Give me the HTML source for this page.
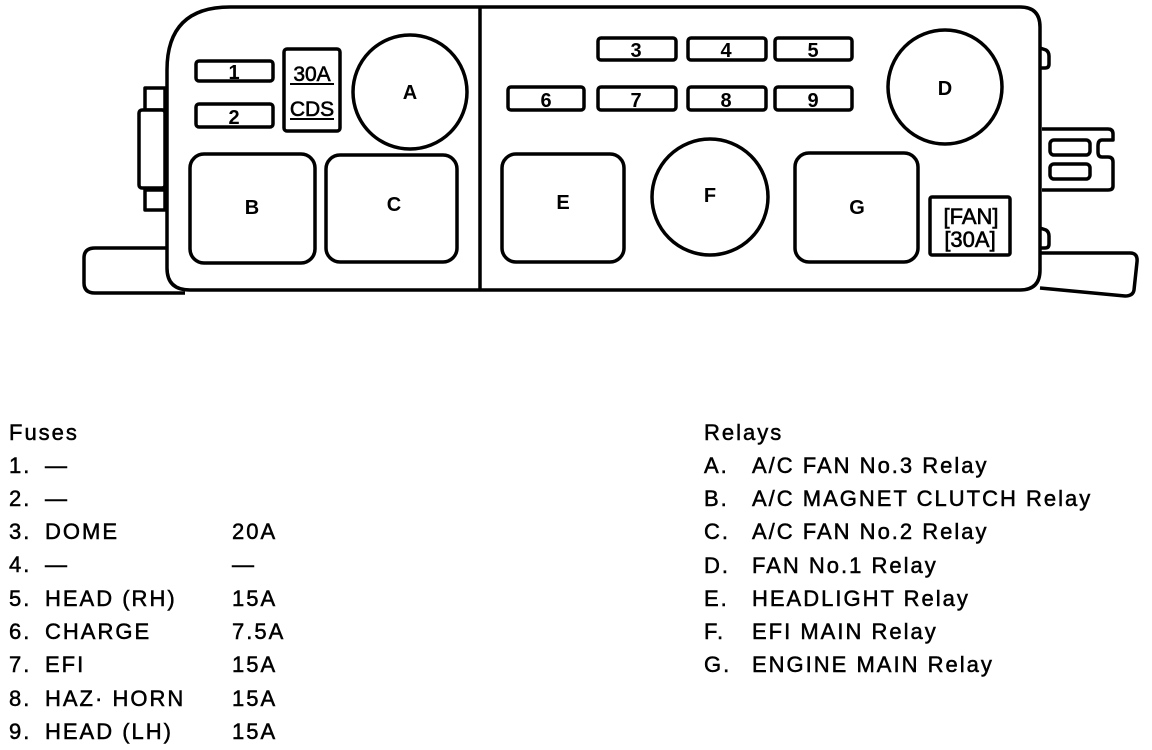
<!DOCTYPE html>
<html><head><style>
html,body{margin:0;padding:0;background:#fff;}
svg{display:block;}
text{font-family:"Liberation Sans",sans-serif;fill:#000;}
</style></head><body>
<svg width="1152" height="750" viewBox="0 0 1152 750" xmlns="http://www.w3.org/2000/svg">
<g fill="none" stroke="#000" stroke-width="3.5" stroke-linejoin="round">
<path d="M170,248 L95,248 Q84,248 84,258 L84,283 Q84,293 95,293 L185,293"/>
<path d="M1040,253 L1130,253 Q1138,253 1137,262 L1134,290 Q1133,296 1125,296 L1040,288"/>
<rect x="145" y="88" width="20" height="22" fill="#fff"/>
<rect x="139" y="110" width="26" height="78" rx="3" fill="#fff"/>
<rect x="145" y="190" width="20" height="20" fill="#fff"/>
<path d="M1042,129 L1108,129 Q1113,129 1113,134 L1113,140 L1102,140 Q1098,140 1098,146 L1098,152 Q1098,157 1102,157 L1108,157 Q1113,157 1113,162 L1113,186 Q1113,190 1108,190 L1042,190" fill="#fff"/>
<rect x="1050" y="140" width="40" height="15" rx="4"/>
<rect x="1050" y="164" width="40" height="15" rx="4"/>
<path d="M1040,48 L1046,50 Q1049,52 1049,56 L1049,64 Q1049,68 1045,68 L1040,68"/>
<path d="M1040,228 L1046,230 Q1049,232 1049,236 L1049,244 Q1049,248 1045,248 L1040,248"/>
<path d="M230,7 L1020,7 Q1040,7 1040,27 L1040,270 Q1040,290 1020,290 L190,290 Q167,290 167,268 L167,70 Q167,7 230,7 Z" fill="#fff"/>
<line x1="480" y1="8" x2="480" y2="290"/>
<rect x="196" y="61" width="77" height="20" rx="3"/>
<rect x="196" y="104" width="77" height="23" rx="3"/>
<rect x="284" y="49" width="56" height="82" rx="3"/>
<rect x="598" y="38" width="78" height="22" rx="3"/>
<rect x="688" y="38" width="78" height="22" rx="3"/>
<rect x="775" y="38" width="77" height="22" rx="3"/>
<rect x="508" y="87" width="76" height="23" rx="3"/>
<rect x="598" y="87" width="78" height="23" rx="3"/>
<rect x="688" y="87" width="78" height="23" rx="3"/>
<rect x="775" y="87" width="77" height="23" rx="3"/>
<circle cx="410" cy="92" r="57"/>
<rect x="190" y="154" width="125" height="109" rx="14"/>
<rect x="326" y="155" width="131" height="107" rx="14"/>
<rect x="502" y="154" width="122" height="108" rx="14"/>
<circle cx="710" cy="197" r="58"/>
<rect x="795" y="153" width="123" height="109" rx="14"/>
<circle cx="945" cy="87" r="57"/>
<rect x="930" y="197" width="80" height="58" rx="2"/>
<line x1="290" y1="84" x2="334" y2="84" stroke-width="2"/>
<line x1="290" y1="119" x2="334" y2="119" stroke-width="2"/>
</g>
<g font-size="20" font-weight="bold" text-anchor="middle">
<text x="234" y="79">1</text>
<text x="234" y="124">2</text>
<text x="312" y="81" font-size="21" font-weight="normal" stroke="#000" stroke-width="0.6">30A</text>
<text x="312" y="116" font-size="21" font-weight="normal" stroke="#000" stroke-width="0.6">CDS</text>
<text x="636" y="57">3</text>
<text x="726" y="57">4</text>
<text x="813" y="57">5</text>
<text x="546" y="107">6</text>
<text x="636" y="107">7</text>
<text x="726" y="107">8</text>
<text x="813" y="107">9</text>
<text x="410" y="99">A</text>
<text x="252" y="214">B</text>
<text x="394" y="211">C</text>
<text x="563" y="209">E</text>
<text x="710" y="202">F</text>
<text x="857" y="214">G</text>
<text x="945" y="95">D</text>
<text x="971" y="224" font-size="22" font-weight="normal" stroke="#000" stroke-width="0.6">[FAN]</text>
<text x="970" y="247" font-size="22" font-weight="normal" stroke="#000" stroke-width="0.6">[30A]</text>
</g>
<g font-size="22" letter-spacing="2" stroke="#000" stroke-width="0.5">
<text x="9" y="440">Fuses</text>
<text x="9" y="473">1.</text><text x="45" y="473">—</text>
<text x="9" y="506">2.</text><text x="45" y="506">—</text>
<text x="9" y="539">3.</text><text x="45" y="539">DOME</text><text x="232" y="539">20A</text>
<text x="9" y="572">4.</text><text x="45" y="572">—</text><text x="232" y="572">—</text>
<text x="9" y="606">5.</text><text x="45" y="606">HEAD (RH)</text><text x="232" y="606">15A</text>
<text x="9" y="639">6.</text><text x="45" y="639">CHARGE</text><text x="232" y="639">7.5A</text>
<text x="9" y="672">7.</text><text x="45" y="672">EFI</text><text x="232" y="672">15A</text>
<text x="9" y="706">8.</text><text x="45" y="706">HAZ· HORN</text><text x="232" y="706">15A</text>
<text x="9" y="739">9.</text><text x="45" y="739">HEAD (LH)</text><text x="232" y="739">15A</text>
<text x="704" y="440">Relays</text>
<text x="704" y="473">A.</text><text x="752" y="473">A/C FAN No.3 Relay</text>
<text x="704" y="506">B.</text><text x="752" y="506">A/C MAGNET CLUTCH Relay</text>
<text x="704" y="539">C.</text><text x="752" y="539">A/C FAN No.2 Relay</text>
<text x="704" y="573">D.</text><text x="752" y="573">FAN No.1 Relay</text>
<text x="704" y="606">E.</text><text x="752" y="606">HEADLIGHT Relay</text>
<text x="704" y="639">F.</text><text x="752" y="639">EFI MAIN Relay</text>
<text x="704" y="672">G.</text><text x="752" y="672">ENGINE MAIN Relay</text>
</g>
</svg>
</body></html>
